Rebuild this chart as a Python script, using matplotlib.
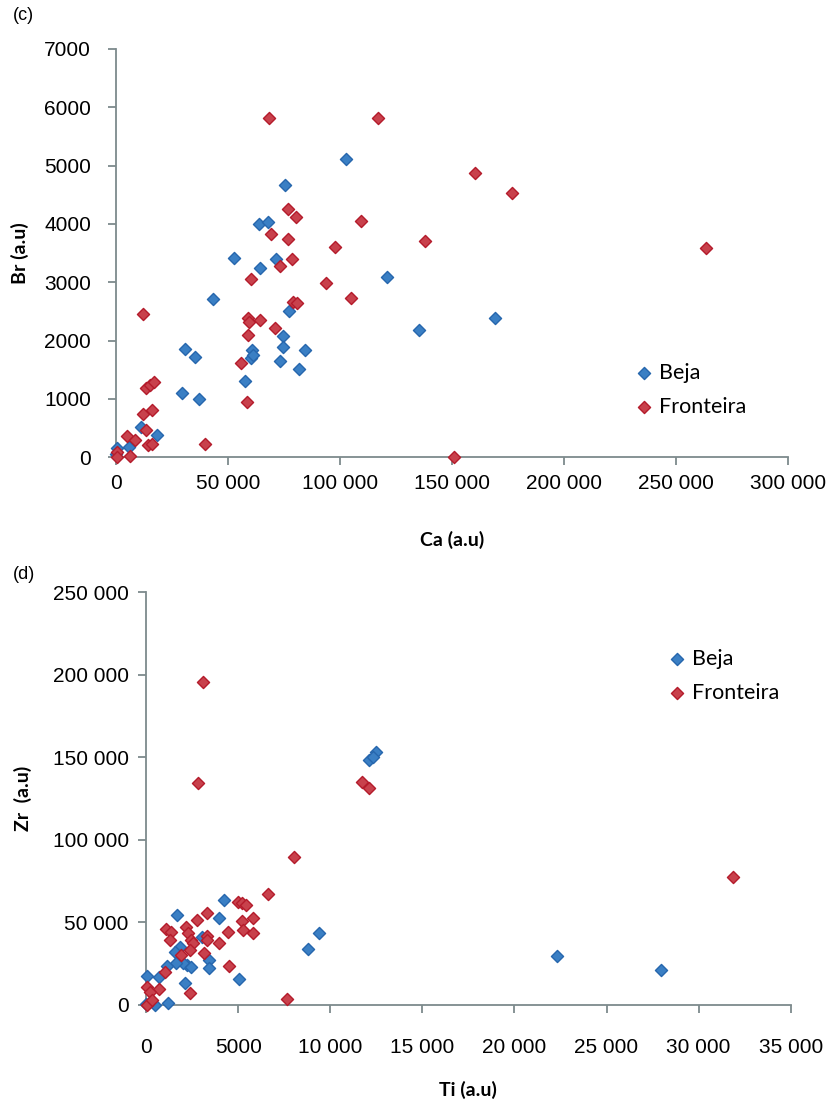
import numpy as np
import matplotlib
matplotlib.use("Agg")
import matplotlib.pyplot as plt
from matplotlib.ticker import FuncFormatter

plt.rcParams['font.family'] = ['Lato', 'DejaVu Sans']

# (c) Ca vs Br
beja_ca = [102500, 75400, 63700, 68000, 52700, 71600, 64300, 121100, 43100, 77400,
           74700, 74700, 135100, 169300, 60600, 60300, 61000, 84200, 73200, 81800,
           57600, 30800, 35100, 29300, 37200, 11000, 18300, 600, 5900, 0]
beja_br = [5117, 4660, 4000, 4025, 3424, 3401, 3242, 3087, 2721, 2515,
           2081, 1887, 2178, 2389, 1840, 1698, 1760, 1840, 1657, 1509,
           1303, 1863, 1726, 1103, 1000, 515, 382, 165, 182, 50]

fron_ca = [68400, 117100, 160100, 176800, 76900, 80200, 109200, 69000, 76800, 138100,
           97900, 263200, 78400, 73100, 60300, 93900, 104800, 78900, 80600, 12200,
           58800, 59500, 64400, 71000, 58800, 55900, 58300, 13400, 15200, 17100,
           12200, 16200, 13400, 4800, 8500, 14100, 16200, 39900, 600, 600, 6200, 150900]
fron_br = [5815, 5815, 4870, 4539, 4260, 4117, 4053, 3836, 3750, 3710,
           3602, 3590, 3401, 3287, 3053, 2985, 2727, 2670, 2641, 2463,
           2384, 2316, 2355, 2213, 2093, 1623, 954, 1183, 1240, 1292,
           738, 811, 468, 371, 297, 211, 228, 233, 96, 0, 22, 0]

# (d) Ti vs Zr
beja_ti = [12460, 12110, 12300, 4230, 1680, 3940, 3020, 1840, 1570, 2240,
           2030, 2440, 3400, 3400, 1630, 1120, 690, 40, 2110, 5060,
           1180, 490, 0, 8790, 9400, 22330, 27980]
beja_zr = [153100, 148700, 150500, 63700, 54800, 53000, 41400, 35400, 32300, 24300,
           25300, 23200, 27300, 22300, 25300, 23700, 16800, 17600, 13500, 15600,
           1400, 0, 500, 33800, 43900, 29900, 21400]

fron_ti = [3070, 2800, 11710, 12110, 8060, 6600, 5010, 5190, 5410, 3290,
           5790, 2780, 2170, 5190, 5240, 5790, 1080, 1370, 1300, 3330,
           3290, 4450, 3940, 2290, 2420, 2570, 2390, 1920, 3150, 1030,
           720, 40, 220, 2390, 4520, 40, 310, 7630, 31890]
fron_zr = [195800, 134700, 134900, 131500, 89400, 67200, 62700, 61700, 60700, 55600,
           53000, 51600, 47100, 50600, 45500, 43900, 45900, 44500, 39400, 42000,
           39400, 44100, 37400, 43500, 39400, 37400, 33400, 30300, 31400, 20200,
           9500, 11100, 8100, 7100, 23700, 0, 3000, 3500, 77700]

blue_face, blue_edge = '#3a7fc4', '#2666ad'
red_face, red_edge = '#c8414c', '#b41b2b'
spine_col = '#7d8a8c'
tick_font = ['Liberation Sans', 'DejaVu Sans']


def space_thousands(v, pos):
    v = int(round(v))
    if abs(v) < 10000:
        return str(v)
    return f"{v:,}".replace(",", " ")


def style_axes(ax, xpad, ypad):
    for s in ['top', 'right']:
        ax.spines[s].set_visible(False)
    for s in ['left', 'bottom']:
        ax.spines[s].set_color(spine_col)
        ax.spines[s].set_linewidth(1.3)
    ax.tick_params(direction='out', length=6, width=1.3, color=spine_col,
                   labelsize=15)
    ax.tick_params(axis='x', pad=xpad)
    ax.tick_params(axis='y', pad=ypad)
    for lab in ax.get_xticklabels() + ax.get_yticklabels():
        lab.set_family(tick_font)
    for c in ax.collections:
        c.set_clip_on(False)


def add_legend(ax, x, y):
    ax.legend(loc='center left', bbox_to_anchor=(x, y), bbox_transform=fig.transFigure,
              frameon=False, fontsize=15.5, handlelength=0.8, handletextpad=0.3,
              borderpad=0, borderaxespad=0, labelspacing=0.65)


fig = plt.figure(figsize=(8.32, 11), dpi=100)

# panel (c)
ax1 = fig.add_axes([0.1394, 0.5843, 0.8077, 0.3712])
ax1.scatter(beja_ca, beja_br, marker='D', s=38, c=blue_face, edgecolors=blue_edge,
            linewidths=1, label='Beja', zorder=3)
ax1.scatter(fron_ca, fron_br, marker='D', s=38, c=red_face, edgecolors=red_edge,
            linewidths=1, label='Fronteira', zorder=3)
ax1.set_xlim(0, 300000)
ax1.set_ylim(0, 7000)
ax1.set_xticks(np.arange(0, 300001, 50000))
ax1.set_yticks(np.arange(0, 7001, 1000))
ax1.xaxis.set_major_formatter(FuncFormatter(space_thousands))
ax1.yaxis.set_major_formatter(FuncFormatter(space_thousands))
style_axes(ax1, 6, 12)
ax1.set_xlabel('Ca (a.u)', fontsize=14, fontweight='bold', labelpad=27)
ax1.set_ylabel('Br (a.u)', fontsize=14, fontweight='bold', labelpad=11)
add_legend(ax1, 0.7638, 0.6459)
fig.text(0.016, 0.986, '(c)', fontsize=13, va='center', family=tick_font)

# panel (d)
ax2 = fig.add_axes([0.1755, 0.0864, 0.7749, 0.375])
ax2.scatter(beja_ti, beja_zr, marker='D', s=38, c=blue_face, edgecolors=blue_edge,
            linewidths=1, label='Beja', zorder=3)
ax2.scatter(fron_ti, fron_zr, marker='D', s=38, c=red_face, edgecolors=red_edge,
            linewidths=1, label='Fronteira', zorder=3)
ax2.set_xlim(0, 35000)
ax2.set_ylim(0, 250000)
ax2.set_xticks(np.arange(0, 35001, 5000))
ax2.set_yticks(np.arange(0, 250001, 50000))
ax2.xaxis.set_major_formatter(FuncFormatter(space_thousands))
ax2.yaxis.set_major_formatter(FuncFormatter(space_thousands))
style_axes(ax2, 18, 6.5)
ax2.set_xlabel('Ti (a.u)', fontsize=14, fontweight='bold', labelpad=17)
ax2.set_ylabel('Zr  (a.u)', fontsize=14, fontweight='bold', labelpad=15)
add_legend(ax2, 0.8035, 0.3859)
fig.text(0.016, 0.478, '(d)', fontsize=13, va='center', family=tick_font)

fig.savefig('out.png', dpi=100)
